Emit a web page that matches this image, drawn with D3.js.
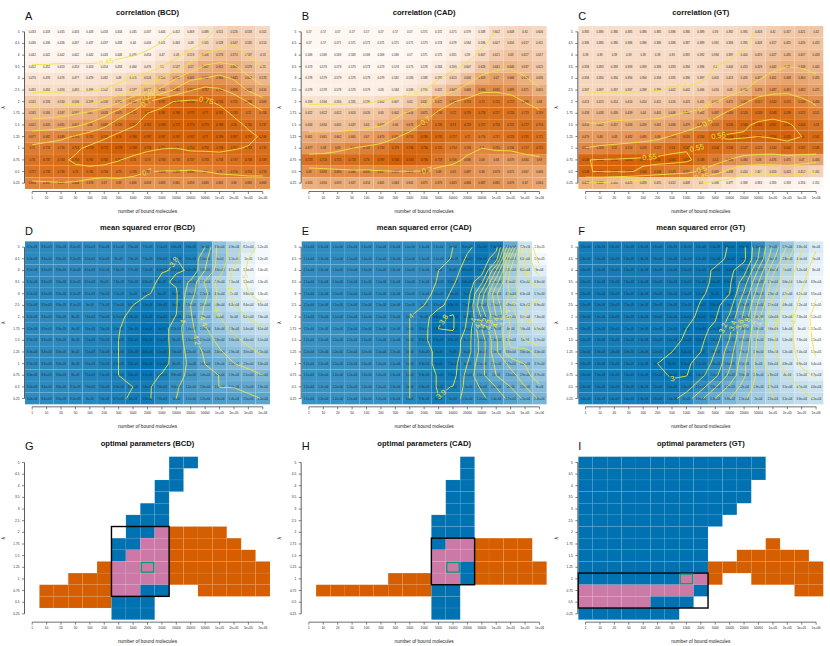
<!DOCTYPE html>
<html><head><meta charset="utf-8">
<script src="https://cdn.jsdelivr.net/npm/d3@7"></script>
<style>
body{margin:0;background:#fff}
svg{display:block}
text{font-family:"Liberation Sans",Arial,Helvetica,sans-serif}
</style>
</head><body>
<svg id="chart" width="830" height="646"></svg>
<script>
// ---------------- data ----------------
const xLabels = ["1","10","20","50","100","200","500","1000","2000","5000","10000","20000","50000","1e+05","2e+05","5e+05","1e+06"];
const yLabels = ["5","4.5","4","3.5","3","2.5","2","1.75","1.5","1.25","1","0.75","0.5","0.25"];

const corrBCD = [
[0.433,0.433,0.435,0.433,0.433,0.433,0.434,0.435,0.437,0.444,0.452,0.469,0.489,0.511,0.526,0.518,0.502],
[0.436,0.436,0.436,0.437,0.437,0.437,0.438,0.44,0.444,0.451,0.463,0.48,0.505,0.528,0.547,0.535,0.514],
[0.442,0.442,0.442,0.442,0.442,0.443,0.446,0.449,0.454,0.47,0.49,0.519,0.558,0.573,0.573,0.547,0.53],
[0.452,0.452,0.453,0.453,0.453,0.454,0.458,0.464,0.476,0.5,0.527,0.57,0.607,0.615,0.606,0.579,0.55],
[0.476,0.476,0.476,0.477,0.479,0.482,0.49,0.505,0.524,0.555,0.599,0.641,0.652,0.664,0.645,0.606,0.578],
[0.491,0.492,0.493,0.495,0.496,0.502,0.514,0.537,0.577,0.614,0.662,0.697,0.717,0.706,0.686,0.645,0.616],
[0.531,0.533,0.534,0.536,0.539,0.559,0.593,0.652,0.7,0.737,0.754,0.758,0.755,0.744,0.725,0.698,0.669],
[0.581,0.584,0.587,0.597,0.61,0.633,0.675,0.711,0.75,0.761,0.768,0.771,0.77,0.762,0.745,0.72,0.708],
[0.621,0.626,0.631,0.641,0.66,0.688,0.729,0.747,0.762,0.769,0.772,0.774,0.773,0.768,0.76,0.745,0.737],
[0.677,0.682,0.689,0.705,0.725,0.743,0.76,0.766,0.767,0.767,0.767,0.767,0.77,0.769,0.767,0.757,0.746],
[0.71,0.718,0.726,0.743,0.759,0.772,0.778,0.768,0.758,0.751,0.75,0.754,0.756,0.758,0.752,0.748,0.739],
[0.73,0.737,0.743,0.756,0.761,0.762,0.752,0.74,0.73,0.733,0.733,0.737,0.733,0.734,0.737,0.748,0.749],
[0.727,0.733,0.736,0.74,0.741,0.734,0.73,0.725,0.702,0.698,0.698,0.695,0.7,0.71,0.716,0.719,0.719],
[0.694,0.695,0.697,0.694,0.678,0.67,0.68,0.666,0.658,0.659,0.661,0.659,0.663,0.662,0.66,0.669,0.669]];

const corrCAD = [
[0.57,0.57,0.57,0.57,0.57,0.57,0.57,0.57,0.571,0.572,0.575,0.579,0.588,0.602,0.608,0.61,0.606],
[0.57,0.57,0.571,0.571,0.571,0.571,0.571,0.571,0.573,0.574,0.578,0.584,0.596,0.607,0.616,0.617,0.611],
[0.569,0.569,0.569,0.569,0.569,0.569,0.569,0.57,0.571,0.575,0.581,0.59,0.607,0.621,0.63,0.627,0.617],
[0.573,0.573,0.573,0.573,0.573,0.573,0.574,0.575,0.578,0.584,0.593,0.607,0.628,0.641,0.646,0.637,0.625],
[0.578,0.579,0.579,0.579,0.579,0.579,0.581,0.583,0.588,0.598,0.613,0.634,0.659,0.67,0.668,0.653,0.636],
[0.578,0.578,0.578,0.579,0.579,0.58,0.584,0.589,0.598,0.621,0.642,0.669,0.694,0.695,0.689,0.671,0.655],
[0.593,0.594,0.594,0.595,0.596,0.602,0.607,0.62,0.639,0.672,0.698,0.713,0.72,0.721,0.717,0.699,0.68],
[0.622,0.622,0.622,0.624,0.626,0.63,0.642,0.656,0.675,0.708,0.72,0.729,0.728,0.727,0.724,0.713,0.709],
[0.634,0.634,0.635,0.637,0.64,0.647,0.66,0.678,0.71,0.726,0.73,0.729,0.727,0.726,0.721,0.727,0.716],
[0.661,0.661,0.662,0.665,0.67,0.679,0.695,0.715,0.736,0.732,0.727,0.72,0.716,0.717,0.723,0.731,0.721],
[0.677,0.68,0.69,0.7,0.707,0.714,0.729,0.736,0.736,0.725,0.714,0.706,0.7,0.705,0.706,0.717,0.725],
[0.723,0.724,0.725,0.728,0.73,0.737,0.746,0.743,0.736,0.718,0.706,0.696,0.69,0.68,0.679,0.684,0.69],
[0.69,0.692,0.694,0.696,0.695,0.697,0.699,0.699,0.698,0.69,0.69,0.687,0.68,0.679,0.671,0.667,0.666],
[0.653,0.656,0.659,0.657,0.654,0.661,0.664,0.661,0.675,0.679,0.683,0.686,0.687,0.685,0.679,0.67,0.664]];

const corrGT = [
[0.385,0.386,0.386,0.385,0.386,0.385,0.386,0.386,0.389,0.39,0.392,0.395,0.403,0.41,0.417,0.421,0.42],
[0.386,0.386,0.386,0.386,0.386,0.386,0.386,0.387,0.389,0.391,0.393,0.395,0.408,0.417,0.425,0.426,0.425],
[0.39,0.39,0.39,0.39,0.39,0.39,0.39,0.391,0.392,0.394,0.397,0.404,0.419,0.427,0.435,0.437,0.433],
[0.393,0.393,0.393,0.393,0.393,0.393,0.393,0.394,0.396,0.4,0.404,0.413,0.429,0.442,0.45,0.448,0.442],
[0.394,0.394,0.394,0.394,0.394,0.394,0.395,0.396,0.397,0.405,0.413,0.426,0.447,0.461,0.468,0.464,0.455],
[0.397,0.397,0.397,0.397,0.398,0.399,0.402,0.402,0.406,0.416,0.43,0.448,0.476,0.487,0.491,0.482,0.471],
[0.413,0.413,0.414,0.414,0.414,0.415,0.416,0.423,0.431,0.447,0.471,0.494,0.517,0.524,0.521,0.509,0.494],
[0.438,0.438,0.439,0.439,0.44,0.441,0.446,0.452,0.462,0.487,0.509,0.526,0.538,0.543,0.539,0.525,0.511],
[0.453,0.452,0.457,0.458,0.459,0.461,0.468,0.479,0.497,0.519,0.536,0.546,0.555,0.557,0.553,0.544,0.53],
[0.479,0.48,0.48,0.482,0.485,0.49,0.503,0.519,0.534,0.551,0.554,0.553,0.55,0.554,0.555,0.55,0.541],
[0.501,0.506,0.51,0.514,0.519,0.527,0.54,0.547,0.552,0.544,0.536,0.527,0.523,0.524,0.542,0.537,0.535],
[0.549,0.552,0.553,0.555,0.557,0.56,0.561,0.557,0.538,0.52,0.498,0.484,0.48,0.476,0.475,0.47,0.465],
[0.549,0.551,0.552,0.553,0.544,0.533,0.523,0.515,0.493,0.469,0.438,0.414,0.407,0.413,0.424,0.412,0.401],
[0.447,0.446,0.435,0.425,0.419,0.415,0.412,0.408,0.4,0.386,0.377,0.368,0.363,0.359,0.358,0.356,0.351]];

const mseBCD = [
[8200,8300,8300,8200,8300,8100,8100,7900,7700,7100,6800,6800,10000,32000,49000,82000,120000],
[8200,8300,8300,8200,8200,8100,8000,7900,7500,6900,6300,6900,14000,30000,51000,100000,120000],
[8200,8300,8300,8200,8100,8100,7900,7700,7200,6400,6200,6400,16000,33000,69000,110000,140000],
[8200,8300,8300,8200,8100,8000,7800,7400,6800,6000,6600,11000,27000,47000,71000,110000,130000],
[8200,8300,8300,8100,8100,7900,7500,7000,6400,6000,6000,14000,22000,45000,70000,98000,130000],
[8200,8300,8300,8100,8000,7700,7100,6300,5500,5600,6000,16000,26000,48000,63000,84000,95000],
[8200,8300,8300,8000,7800,7500,6700,5800,5100,5500,6400,15000,29000,40000,50000,64000,76000],
[8200,8300,8300,8000,7600,7400,6400,5600,4700,5000,8200,14000,24000,34000,43000,54000,61000],
[8300,8300,8300,8000,7100,7200,6300,5300,4600,5100,8000,13000,21000,28000,36000,44000,51000],
[8300,8300,8300,8000,7100,7200,6300,5300,4600,5100,7600,12000,17000,24000,29000,36000,42000],
[8300,8300,8300,8000,7600,7100,6300,5300,4600,5100,8000,11000,16000,19000,25000,29000,33000],
[8400,8300,8300,8000,7100,7100,6300,5400,5100,6600,8800,11000,14000,16000,19000,21000,25000],
[8400,8400,8300,8100,7900,7200,6800,6300,5900,7600,9600,12000,13000,16000,16000,17000,19000],
[8400,8400,8300,8200,8000,7400,6700,6000,5900,7800,10000,11000,12000,13000,14000,15000,16000]];

const mseCAD = [
[11000,11000,11000,11000,11000,11000,11000,11000,11000,11000,10000,8400,7100,7400,21000,72000,130000],
[11000,11000,11000,11000,11000,11000,11000,11000,11000,11000,9800,7600,6900,9100,34000,65000,110000],
[11000,11000,11000,11000,11000,11000,11000,11000,11000,10000,9000,6900,7100,16000,41000,62000,90000],
[11000,11000,11000,11000,11000,11000,11000,11000,11000,9800,8200,6800,9600,23000,45000,61000,68000],
[11000,11000,11000,11000,11000,11000,11000,11000,11000,9100,7600,7000,14000,31000,41000,63000,57000],
[11000,11000,11000,11000,11000,11000,11000,11000,10000,8700,6800,7500,16000,27000,48000,62000,69000],
[11000,11000,11000,11000,11000,11000,11000,10000,9000,6400,6200,8000,13000,25000,43000,63000,73000],
[12000,12000,12000,11000,11000,11000,11000,10000,8600,6300,6200,8300,16000,27000,40000,56000,65000],
[12000,12000,12000,12000,11000,11000,11000,10000,8300,6900,6900,9000,14000,24000,43000,50000,57000],
[12000,12000,12000,12000,12000,11000,11000,10000,9400,7000,7000,9000,14000,24000,38000,36000,44000],
[12000,12000,12000,12000,12000,12000,11000,10000,9300,7000,7200,10000,15000,21000,27000,32000,37000],
[12000,12000,12000,12000,12000,12000,11000,10000,9300,7700,7200,11000,15000,20000,23000,29000,37000],
[12000,12000,12000,12000,12000,12000,11000,10000,9300,7700,8000,11000,13000,16000,20000,25000,30000],
[12000,12000,12000,12000,12000,12000,11000,10000,9300,8000,9000,11000,12000,14000,17000,21000,26000]];

const mseGT = [
[1300,1300,1300,1300,1300,1300,1300,1300,1200,1100,980,930,2300,7000,17000,38000,60000],
[1300,1300,1300,1300,1300,1300,1300,1300,1200,1100,950,900,2600,9000,23000,45000,70000],
[1300,1300,1300,1300,1300,1300,1300,1200,1100,960,900,1300,4300,14000,30000,52000,80000],
[1300,1300,1300,1300,1300,1300,1300,1200,1100,940,930,2000,6200,19000,36000,58000,88000],
[1300,1300,1300,1300,1300,1300,1300,1200,1050,900,1000,2700,8300,23000,42000,65000,95000],
[1300,1300,1300,1300,1300,1300,1300,1200,970,880,1300,3700,11000,29000,48000,72000,105000],
[1300,1300,1300,1300,1300,1300,1200,1100,930,950,1700,4500,14000,34000,52000,78000,120000],
[1300,1300,1300,1300,1300,1300,1200,1000,890,1100,2200,5800,16000,36000,54000,80000,115000],
[1300,1300,1300,1300,1300,1200,1100,950,920,1300,2600,6900,18000,38000,54000,78000,110000],
[1300,1300,1300,1300,1300,1200,1000,920,1000,1600,3200,7700,19000,38000,52000,74000,105000],
[1300,1300,1300,1300,1200,1000,900,920,1200,1800,3600,9100,20000,34000,48000,68000,94000],
[1300,1300,1300,1300,1200,1100,960,980,1400,2200,4500,9300,18000,28000,40000,55000,67000],
[1300,1300,1300,1300,1300,1200,1100,1300,2100,3800,6900,12000,19000,27000,35000,41000,46000],
[1400,1400,1400,1400,1300,1300,1400,2000,3600,6300,9800,15000,20000,25000,31000,36000,41000]];

// optimal parameter maps: B = MSE-optimal, O = correlation-optimal, P = both, . = none
const optBCD = [
"..........BB.....",
"..........B......",
".........BB......",
".........B.......",
"........BB.......",
".......BBB.......",
".......BBPOOOO...",
"......BBPPOOOOO..",
"......BPPPOOOOOO.",
".....OPPPPOOOOOOO",
"...OOOPPPPOOOOOOO",
".OOOOOPPBB..OOOOO",
".OOOOOBBB........",
"......BBB........"];
const optCAD = [
"...........B.....",
"...........B.....",
"..........BB.....",
"..........BB.....",
"..........BB.....",
".........BBB.....",
".........BBB.....",
".........BPPOOOO.",
".........PPPOOOO.",
".........PPBOOOOO",
"......OOOPPBOOOOO",
".OOOOOOOOBB......",
".........BB......",
".........BB......"];
const optGT = [
"BBBBBBBBBBBBB....",
"BBBBBBBBBBBBB....",
"BBBBBBBBBBBB.....",
"BBBBBBBBBBBB.....",
"BBBBBBBBBBB......",
"BBBBBBBBBB.......",
"BBBBBBBBB........",
"BBBBBBBBB....O...",
"BBBBBBBBB..OOOOO.",
"BBBBBBBBBOOOOOOOO",
"BBBBBBBPPO..OOOOO",
"PPPPPPPPB......OO",
"PPPPPBBB.........",
"BBBBBBB.........."];
// combined region (box) and best parameter (green square), as axis categories
const boxBCD = {x0:"500", x1:"5000", y0:"2", y1:"0.75"},   bestBCD = {x:"2000", y:"1.25"};
const boxCAD = {x0:"5000", x1:"20000", y0:"1.75", y1:"1"}, bestCAD = {x:"10000", y:"1.25"};
const boxGT  = {x0:"1", x1:"2000", y0:"1", y1:"0.5"},      bestGT  = {x:"1000", y:"1"};

// ---------------- drawing ----------------
const W = 830, H = 646, PW = W / 3, PH = H / 3;
const FONT = '"Liberation Sans",Arial,Helvetica,sans-serif';
const CAT = {B:"#0072B2", O:"#D55E00", P:"#CC79A7"};
const YEL = "#F0E442";
const svg = d3.select("#chart");
const defs = svg.append("defs");

const panels = [
  {L:"A", title:"correlation (BCD)", kind:"corr", data:corrBCD},
  {L:"B", title:"correlation (CAD)", kind:"corr", data:corrCAD},
  {L:"C", title:"correlation (GT)",  kind:"corr", data:corrGT},
  {L:"D", title:"mean squared error (BCD)", kind:"mse", data:mseBCD},
  {L:"E", title:"mean squared error (CAD)", kind:"mse", data:mseCAD},
  {L:"F", title:"mean squared error (GT)",  kind:"mse", data:mseGT},
  {L:"G", title:"optimal parameters (BCD)", kind:"opt", data:optBCD, box:boxBCD, best:bestBCD},
  {L:"H", title:"optimal parameters (CAD)", kind:"opt", data:optCAD, box:boxCAD, best:bestCAD},
  {L:"I", title:"optimal parameters (GT)",  kind:"opt", data:optGT,  box:boxGT,  best:bestGT}
];

function fmtCorr(v){ return String(+v.toFixed(3)); }
function fmtMse(v){
  let [m, e] = v.toExponential(1).split("e");
  if (m.endsWith(".0")) m = m.slice(0, -2);
  let s = e[0], d = e.slice(1); if (d.length < 2) d = "0" + d;
  return m + "e" + s + d;
}

const L = 25, R = 270, T = 26, B = 189;
const x = d3.scaleBand().domain(xLabels).range([L, R]);
const y = d3.scaleBand().domain(yLabels).range([T, B]);
const bw = x.bandwidth(), bh = y.bandwidth();
const nx = xLabels.length, ny = yLabels.length;
const gx = d3.scaleLinear().domain([0, nx]).range([L, R]);
const gy = d3.scaleLinear().domain([0, ny]).range([T, B]);

function labelSpots(geom){
  const spots = [];
  const eps = 1e-6;
  const inside = p => p[0] > 0.5 + eps && p[0] < nx - 0.5 - eps && p[1] > 0.5 + eps && p[1] < ny - 0.5 - eps;
  geom.coordinates.forEach(poly => poly.forEach(ring => {
    let pts = ring.slice(0, ring.length - 1);
    const st = pts.findIndex(p => !inside(p));
    if (st > 0) pts = pts.slice(st).concat(pts.slice(0, st));
    const runs = []; let cur = [];
    pts.forEach(p => { if (inside(p)) cur.push(p); else { if (cur.length) runs.push(cur); cur = []; } });
    if (cur.length) runs.push(cur);
    runs.forEach(run => {
      if (run.length < 3) return;
      const px = run.map(p => [gx(p[0]), gy(p[1])]);
      const cum = [0];
      for (let i = 1; i < px.length; i++) cum.push(cum[i-1] + Math.hypot(px[i][0]-px[i-1][0], px[i][1]-px[i-1][1]));
      const tot = cum[cum.length - 1];
      if (tot < 14) return;
      const target = tot * 0.5;
      let i = 1; while (i < cum.length - 1 && cum[i] < target) i++;
      const a = px[i-1], b = px[i];
      const t = (target - cum[i-1]) / Math.max(1e-9, cum[i] - cum[i-1]);
      let ang = Math.atan2(b[1]-a[1], b[0]-a[0]) * 180 / Math.PI;
      if (ang > 90) ang -= 180; if (ang < -90) ang += 180;
      spots.push({x: a[0] + (b[0]-a[0]) * t, y: a[1] + (b[1]-a[1]) * t, ang});
    });
  }));
  return spots;
}

panels.forEach((p, i) => {
  const ox = (i % 3) * PW, oy = Math.floor(i / 3) * PH;
  const g = svg.append("g").attr("transform", `translate(${ox},${oy})`);

  if (p.kind === "corr" || p.kind === "mse") {
    const cells = [];
    p.data.forEach((row, r) => row.forEach((v, c) => cells.push({r, c, v})));
    const tv = p.kind === "mse" ? (v => Math.log10(v)) : (v => v);
    const ext = d3.extent(cells, d => tv(d.v));
    const color = d3.scaleLinear().domain(ext)
      .range(p.kind === "corr" ? ["#fff8f3", "#D55E00"] : ["#0072B2", "#ffffff"])
      .interpolate(d3.interpolateRgb);
    g.append("g").selectAll("rect").data(cells).join("rect")
      .attr("x", d => x(xLabels[d.c])).attr("y", d => y(yLabels[d.r]))
      .attr("width", bw).attr("height", bh)
      .attr("fill", d => color(tv(d.v)))
      .attr("stroke", "rgba(255,255,255,0.13)").attr("stroke-width", 0.5);
    g.append("g").selectAll("text").data(cells).join("text")
      .attr("x", d => x(xLabels[d.c]) + bw / 2).attr("y", d => y(yLabels[d.r]) + bh / 2)
      .attr("text-anchor", "middle").attr("dominant-baseline", "central")
      .attr("font-size", 2.8).attr("fill", "#2a2a2a")
      .text(d => p.kind === "corr" ? fmtCorr(d.v) : fmtMse(d.v));

    // contours
    const vals = p.data.flat().map(tv);
    const th = d3.ticks(ext[0], ext[1], p.kind === "corr" ? 5 : 10);
    const cont = d3.contours().size([nx, ny]).thresholds(th)(vals);
    const proj = d3.geoTransform({point(px, py){ this.stream.point(gx(px), gy(py)); }});
    const path = d3.geoPath(proj);
    const clipId = "clip" + i, maskId = "mask" + i;
    defs.append("clipPath").attr("id", clipId).append("rect")
      .attr("x", gx(0.5)).attr("y", gy(0.5))
      .attr("width", gx(nx - 0.5) - gx(0.5)).attr("height", gy(ny - 0.5) - gy(0.5));
    const labels = [];
    cont.forEach(c => {
      const txt = String(+c.value.toFixed(3));
      labelSpots(c).forEach(s => labels.push({...s, txt}));
    });
    const fs = 7.5;
    const mask = defs.append("mask").attr("id", maskId).attr("maskUnits", "userSpaceOnUse")
      .attr("x", 0).attr("y", 0).attr("width", PW).attr("height", PH);
    mask.append("rect").attr("x", 0).attr("y", 0).attr("width", PW).attr("height", PH).attr("fill", "#fff");
    labels.forEach(l => {
      const w = l.txt.length * fs * 0.5 + 1.5, h = fs * 0.85;
      mask.append("rect").attr("x", -w / 2).attr("y", -h / 2).attr("width", w).attr("height", h)
        .attr("fill", "#000").attr("transform", `translate(${l.x},${l.y}) rotate(${l.ang})`);
    });
    const cg = g.append("g").attr("clip-path", `url(#${clipId})`);
    cg.append("g").attr("mask", `url(#${maskId})`).selectAll("path").data(cont).join("path")
      .attr("d", path).attr("fill", "none").attr("stroke", YEL).attr("stroke-width", 0.9);
    g.append("g").selectAll("text").data(labels).join("text")
      .attr("transform", d => `translate(${d.x},${d.y}) rotate(${d.ang})`)
      .attr("text-anchor", "middle").attr("dominant-baseline", "central")
      .attr("font-size", fs).attr("fill", YEL).text(d => d.txt);
  } else {
    const cells = [];
    p.data.forEach((row, r) => row.split("").forEach((ch, c) => { if (ch !== ".") cells.push({r, c, ch}); }));
    g.append("g").selectAll("rect").data(cells).join("rect")
      .attr("x", d => x(xLabels[d.c])).attr("y", d => y(yLabels[d.r]))
      .attr("width", bw).attr("height", bh)
      .attr("fill", d => CAT[d.ch])
      .attr("stroke", "rgba(255,255,255,0.12)").attr("stroke-width", 0.5);
    const bx0 = x(p.box.x0), bx1 = x(p.box.x1) + bw, by0 = y(p.box.y0), by1 = y(p.box.y1) + bh;
    g.append("rect").attr("x", bx0).attr("y", by0).attr("width", bx1 - bx0).attr("height", by1 - by0)
      .attr("fill", "none").attr("stroke", "#000").attr("stroke-width", 1.4);
    g.append("rect").attr("x", x(p.best.x) + 1).attr("y", y(p.best.y) + 1)
      .attr("width", bw - 2).attr("height", bh - 2)
      .attr("fill", "none").attr("stroke", "#009E73").attr("stroke-width", 1.3);
  }

  // axes
  const xa = g.append("g").attr("transform", `translate(0,${B + 2.5})`)
    .call(d3.axisBottom(x).tickSize(2.5).tickPadding(2.5));
  xa.select(".domain").remove();
  xa.append("line").attr("x1", x(xLabels[0]) + bw / 2).attr("x2", x(xLabels[nx - 1]) + bw / 2)
    .attr("stroke", "#333").attr("stroke-width", 0.7);
  xa.selectAll(".tick line").attr("stroke", "#333").attr("stroke-width", 0.6);
  xa.selectAll(".tick text").attr("font-size", 3.2).attr("fill", "#222").attr("font-family", FONT);

  const ya = g.append("g").attr("transform", `translate(${L - 0.5},0)`)
    .call(d3.axisLeft(y).tickSize(2.5).tickPadding(2.5));
  ya.select(".domain").remove();
  ya.append("line").attr("y1", y(yLabels[0]) + bh / 2).attr("y2", y(yLabels[ny - 1]) + bh / 2)
    .attr("stroke", "#333").attr("stroke-width", 0.8);
  ya.selectAll(".tick line").attr("stroke", "#333").attr("stroke-width", 0.6);
  ya.selectAll(".tick text").attr("font-size", 3.2).attr("fill", "#222").attr("font-family", FONT);

  // texts
  g.append("text").attr("x", (L + R) / 2).attr("y", 15).attr("text-anchor", "middle")
    .attr("font-size", 7.6).attr("font-weight", "bold").attr("fill", "#111").text(p.title);
  g.append("text").attr("x", L).attr("y", 19.5).attr("font-size", 11).attr("fill", "#111").text(p.L);
  g.append("text").attr("x", (L + R) / 2).attr("y", 212.5).attr("text-anchor", "middle")
    .attr("font-size", 4.8).attr("fill", "#222").text("number of bound molecules");
  g.append("text").attr("transform", `translate(4.5,${(T + B) / 2}) rotate(-90)`)
    .attr("text-anchor", "middle").attr("font-size", 5).attr("fill", "#222").text("λ");
});
</script>
</body></html>
